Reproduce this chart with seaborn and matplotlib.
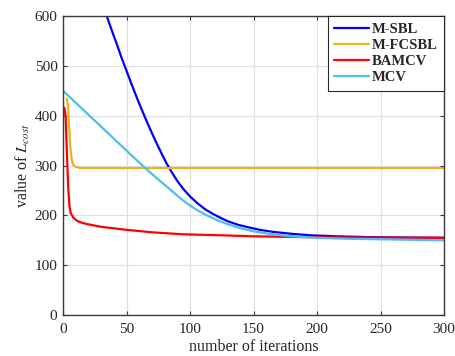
import matplotlib
matplotlib.use("Agg")
import matplotlib.pyplot as plt
import seaborn as sns
import pandas as pd

# ---- data ----
msbl_iter = [30, 34, 38, 42, 46, 50, 54, 58, 62, 66, 70, 74, 78, 82, 86, 90, 95, 100,
             106, 112, 118, 124, 130, 138, 146, 155, 165, 180, 195, 215, 240, 270, 300]
msbl_val = [632, 603, 574, 546, 517, 490, 463, 437, 412, 388, 365, 343, 322, 302, 285, 269, 252, 238,
            224, 212, 203, 195, 188, 181, 176, 171, 167, 163, 160, 158, 156.5, 155.5, 155]

mfcsbl_iter = [3, 4, 5, 6, 7, 8, 10, 14, 50, 100, 200, 300]
mfcsbl_val = [434, 420, 370, 330, 310, 302, 297, 295, 295, 295, 295, 295]

bamcv_iter = [1, 2, 3, 4, 5, 6, 8, 11, 15, 20, 30, 40, 50, 70, 95, 125, 150, 200, 250, 300]
bamcv_val = [416, 400, 330, 260, 220, 205, 196, 189, 185, 182, 177, 174, 171, 166, 162, 160, 158, 156, 155.5, 155]

mcv_iter = [0, 10, 20, 30, 40, 50, 60, 70, 76, 82, 88, 94, 100, 106, 112, 120, 130, 140, 150,
            165, 180, 200, 225, 250, 300]
mcv_val = [450, 426, 402, 378, 354, 330, 306, 283, 270, 257, 244, 231, 220, 210, 201.5, 192, 182, 174, 168,
           162, 158, 155, 153, 152, 150]

labels = ["M-SBL", "M-FCSBL", "BAMCV", "MCV"]
colors = ["#0000FF", "#EDB120", "#FF0000", "#4DBEEE"]
x_ticks = [0, 50, 100, 150, 200, 250, 300]
y_ticks = [0, 100, 200, 300, 400, 500, 600]

frames = []
for lab, xs, ys in zip(labels,
                       [msbl_iter, mfcsbl_iter, bamcv_iter, mcv_iter],
                       [msbl_val, mfcsbl_val, bamcv_val, mcv_val]):
    frames.append(pd.DataFrame({"iter": xs, "val": ys, "method": lab}))
df = pd.concat(frames, ignore_index=True)

sns.set_theme(style="whitegrid")
plt.rcParams["font.family"] = ["Liberation Serif", "DejaVu Serif"]
plt.rcParams["mathtext.fontset"] = "stix"

fig = plt.figure(figsize=(4.55, 3.56), dpi=100)
ax = fig.add_axes([0.1385, 0.115, 0.8375, 0.84])

sns.lineplot(data=df, x="iter", y="val", hue="method", hue_order=labels,
             palette=dict(zip(labels, colors)), estimator=None, sort=False,
             linewidth=1.6, ax=ax, legend=False)

ax.set_xlim(0, 300)
ax.set_ylim(0, 600)
ax.set_xticks(x_ticks)
ax.set_yticks(y_ticks)
ax.set_facecolor("white")
ax.grid(True, color="#e0e0e0", linewidth=0.9)
for s in ax.spines.values():
    s.set_visible(True)
    s.set_color("#3a3a3a")
    s.set_linewidth(1.0)
ax.tick_params(direction="in", length=3, width=0.8, color="#3a3a3a",
               labelsize=11, labelcolor="#262626", top=True, right=True,
               bottom=True, left=True)
ax.tick_params(axis="x", pad=6)
ax.tick_params(axis="y", pad=4)

ax.set_xlabel("number of iterations", fontsize=11.5, color="#262626", labelpad=2)
ax.set_ylabel("value of $L_{cost}$", fontsize=11.5, color="#262626", labelpad=2)

handles = [plt.Line2D([], [], color=c, linewidth=1.6) for c in colors]
leg = ax.legend(handles, labels, loc="upper right", borderaxespad=0,
                frameon=True, fancybox=False, framealpha=1, edgecolor="#262626",
                prop={"weight": "bold", "size": 10.5, "family": "Liberation Serif"},
                handlelength=2.4, handletextpad=0.15, labelspacing=0.2,
                borderpad=0.45)
leg.get_frame().set_linewidth(0.8)

fig.savefig("out.png", dpi=100)
